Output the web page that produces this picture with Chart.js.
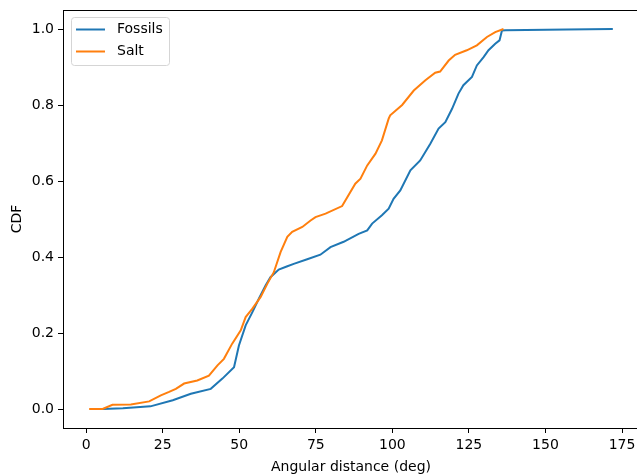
<!DOCTYPE html>
<html>
<head>
<meta charset="utf-8">
<script src="https://cdn.jsdelivr.net/npm/chart.js@4.4.1/dist/chart.umd.min.js"></script>
<style>
  html, body { margin: 0; padding: 0; background: #fff; overflow: hidden; }
  #contenedor { width: 645px; height: 474px; }
</style>
</head>
<body>
<div id="contenedor"><canvas id="myChart" width="645" height="474"></canvas></div>
<script>
// DATOS
const fossilsDeg = [5.4, 12, 21, 28.3, 34.2, 40.7, 44.5, 48.3, 49.9, 52.1, 54.3, 56.4, 58.6, 60.2, 62.9, 65.5, 67.8, 72.2, 76.5, 79.8, 84.1, 89, 91.8, 93.4, 96.6, 98.8, 100.4, 102.6, 105.9, 109.1, 112.4, 115.1, 117.3, 119.5, 121.6, 123.2, 126, 127.6, 129.8, 131.4, 133.6, 135, 135.8, 137, 157, 172]
const fossilsCdf = [0, 0.002, 0.007, 0.023, 0.04, 0.053, 0.08, 0.11, 0.167, 0.22, 0.255, 0.29, 0.325, 0.347, 0.367, 0.375, 0.382, 0.394, 0.406, 0.426, 0.44, 0.461, 0.47, 0.488, 0.51, 0.527, 0.553, 0.575, 0.628, 0.654, 0.698, 0.738, 0.755, 0.79, 0.83, 0.852, 0.874, 0.904, 0.926, 0.944, 0.961, 0.97, 0.996, 0.997, 0.999, 1.0]

const saltDeg = [1, 5.4, 8.6, 14.6, 20.6, 24.4, 27.1, 29.3, 32, 36.3, 40.1, 42.9, 45, 47.7, 50.5, 52.1, 54.3, 57, 59.2, 61.3, 63.5, 65.7, 67.3, 70.6, 73.3, 74.9, 78.2, 83.6, 87.9, 89.6, 91.8, 94.5, 96.6, 98.8, 99.3, 103.2, 107, 110.8, 114, 115.6, 118.4, 120.5, 124.3, 127.6, 130.9, 133.6, 136.3]
const saltCdf = [0, 0, 0.011, 0.012, 0.02, 0.036, 0.045, 0.053, 0.067, 0.075, 0.088, 0.115, 0.132, 0.172, 0.207, 0.242, 0.264, 0.295, 0.33, 0.36, 0.413, 0.453, 0.466, 0.479, 0.496, 0.505, 0.514, 0.534, 0.593, 0.606, 0.641, 0.672, 0.707, 0.764, 0.773, 0.8, 0.838, 0.865, 0.885, 0.888, 0.917, 0.932, 0.944, 0.957, 0.979, 0.992, 1.0]

const xTicks = [0, 25, 50, 75, 100, 125, 150, 175]
const yTicks = [0.0, 0.2, 0.4, 0.6, 0.8, 1.0]

const fuente = 'DejaVu Sans'
const tam = 14
const azul = '#1f77b4'
const naranja = '#ff7f0e'

const puntos = (xs, ys) => xs.map((x, i) => ({ x: x, y: ys[i] }))

// marco de los ejes + leyenda
const marco = {
    id: 'marco',
    afterDatasetsDraw: (chart) => {
        const ctx = chart.ctx
        const a = chart.chartArea
        ctx.save()
        ctx.strokeStyle = '#000'
        ctx.lineWidth = 1
        ctx.strokeRect(Math.round(a.left) + 0.5, Math.round(a.top) + 0.5, Math.round(a.right - a.left), Math.round(a.bottom - a.top))

        // leyenda
        const lx = a.left + 8, ly = a.top + 7, lw = 98, lh = 48
        ctx.fillStyle = 'rgba(255,255,255,0.8)'
        ctx.strokeStyle = '#d5d5d5'
        ctx.beginPath()
        ctx.roundRect(lx + 0.5, ly + 0.5, lw, lh, 3)
        ctx.fill()
        ctx.stroke()
        ctx.font = tam + 'px ' + fuente
        ctx.textBaseline = 'middle'
        chart.data.datasets.forEach((ds, i) => {
            const yy = ly + 12.5 + i * 22
            ctx.strokeStyle = ds.borderColor
            ctx.lineWidth = 2
            ctx.beginPath()
            ctx.moveTo(lx + 5, yy)
            ctx.lineTo(lx + 34, yy)
            ctx.stroke()
            ctx.fillStyle = '#000'
            ctx.fillText(ds.label, lx + 46, yy)
        })
        ctx.restore()
    }
}

new Chart(document.getElementById('myChart'), {
    type: 'line',
    data: {
        datasets: [{
            label: 'Fossils',
            data: puntos(fossilsDeg, fossilsCdf),
            borderColor: azul,
            borderWidth: 2,
            pointRadius: 0,
            tension: 0,
            order: 1
        }, {
            label: 'Salt',
            data: puntos(saltDeg, saltCdf),
            borderColor: naranja,
            borderWidth: 2,
            pointRadius: 0,
            tension: 0,
            order: 0
        }]
    },
    options: {
        responsive: false,
        animation: false,
        events: [],
        layout: { padding: { top: 10, right: 6, left: 0, bottom: 0 } },
        scales: {
            x: {
                type: 'linear',
                min: -7.55,
                max: 180.55,
                afterBuildTicks: (s) => { s.ticks = xTicks.map(v => ({ value: v })) },
                afterFit: (s) => { s.height = 46 },
                border: { display: false },
                grid: { drawOnChartArea: false, drawTicks: true, tickLength: 5, color: '#000', tickColor: '#000' },
                ticks: { color: '#000', padding: 4, maxRotation: 0, font: { family: fuente, size: tam } },
                title: { display: true, text: 'Angular distance (deg)', color: '#000', padding: { top: 6, bottom: -2 }, font: { family: fuente, size: tam } }
            },
            y: {
                type: 'linear',
                min: -0.05,
                max: 1.05,
                afterBuildTicks: (s) => { s.ticks = yTicks.map(v => ({ value: v })) },
                afterFit: (s) => { s.width = 63; s.paddingTop = 0; s.paddingBottom = 0 },
                border: { display: false },
                grid: { drawOnChartArea: false, drawTicks: true, tickLength: 5, color: '#000', tickColor: '#000' },
                ticks: { color: '#000', padding: 4, callback: (v) => v.toFixed(1), font: { family: fuente, size: tam } },
                title: { display: true, text: 'CDF', color: '#000', padding: { top: 9, bottom: 0 }, font: { family: fuente, size: tam } }
            }
        },
        plugins: {
            legend: { display: false },
            tooltip: { enabled: false }
        }
    },
    plugins: [marco]
})
</script>
</body>
</html>
